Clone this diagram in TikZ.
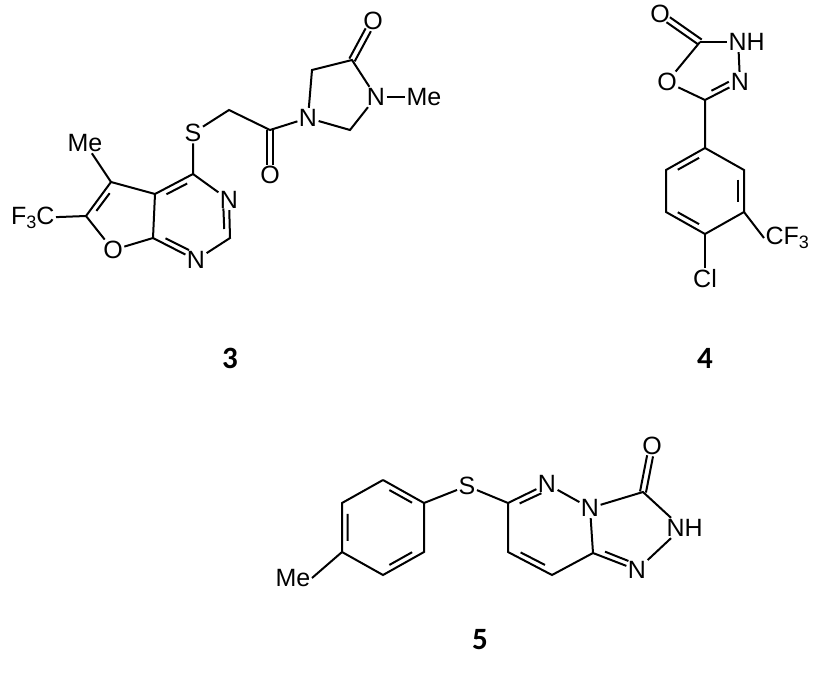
\documentclass[tikz,border=0pt]{standalone}
\usepackage{fontspec}
\setmainfont{Liberation Sans}
\newfontfamily\numfont{Carlito}
\usetikzlibrary{calc}
\newcommand\chsub[1]{\raisebox{-0.35ex}{\fontsize{18}{18}\selectfont #1}}
\newcommand\inl[3]{\draw ($ ($(#1)!0.18!(#2)$)!6pt!(#3) $) -- ($ ($(#2)!0.18!(#1)$)!6pt!(#3) $);}
\newcommand\dbl[2]{\draw[shorten >=10pt] ($(#1)!3pt!90:(#2)$) -- ($(#2)!3pt!-90:(#1)$); \draw[shorten >=10pt] ($(#1)!3pt!-90:(#2)$) -- ($(#2)!3pt!90:(#1)$);}
\begin{document}
\begin{tikzpicture}[x=1pt,y=-1pt,line width=2pt,
 atm/.style={inner sep=0.6pt,font=\fontsize{25}{28}\selectfont},
 cnum/.style={font=\numfont\bfseries\fontsize{31}{34}\selectfont}]
\useasboundingbox (0,0) rectangle (825,677);
% ---------- compound 3
\coordinate (c5) at (111,182); \coordinate (c6) at (86,216);
\node[atm] (o1) at (113,250) {O};
\coordinate (c7a) at (153,238); \coordinate (c3a) at (155,194);
\coordinate (c4) at (193,174);
\node[atm] (n3) at (229,200) {N};
\coordinate (c2) at (230,238);
\node[atm] (n1) at (196,260) {N};
\node[atm] (me1) at (85,143) {Me};
\node[atm,anchor=east] (f3c) at (56,218) {F\chsub{3}C};
\node[atm] (s1) at (193,133) {S};
\coordinate (ch2a) at (229,110); \coordinate (cco) at (270,130);
\node[atm] (oco) at (270,175) {O};
\node[atm] (na) at (308,118) {N};
\coordinate (ch2b) at (312,70); \coordinate (cco2) at (352,60);
\node[atm] (o2) at (373,21) {O};
\node[atm] (nb) at (376,97) {N};
\coordinate (ch2c) at (350,130);
\node[atm] (me2) at (424,97) {Me};
\coordinate (fc) at (124,216); \coordinate (pc) at (193,217);
\draw (me1) -- (c5) -- (c6) -- (o1) -- (c7a) -- (c3a) -- (c5);
\draw (c3a) -- (c4) -- (n3) -- (c2) -- (n1) -- (c7a);
\draw (f3c) -- (c6);
\inl{c5}{c6}{fc} \inl{c3a}{c4}{pc} \inl{n3}{c2}{pc} \inl{c7a}{n1}{pc}
\draw (c4) -- (s1) -- (ch2a) -- (cco) -- (na) -- (ch2b) -- (cco2) -- (nb) -- (ch2c) -- (na);
\draw (nb) -- (me2);
\dbl{cco}{oco} \dbl{cco2}{o2}
% ---------- compound 4
\node[atm] (oa) at (660,14) {O};
\coordinate (d2) at (700,42);
\node[atm,anchor=west] (nh4) at (727,42) {NH};
\node[atm] (n4) at (740,82) {N};
\node[atm] (o4) at (667,82) {O};
\coordinate (d5) at (705,100);
\coordinate (tc) at (712,70);
\coordinate (p1) at (705,148); \coordinate (p2) at (744,170);
\coordinate (p3) at (744,212); \coordinate (p4) at (705,234);
\coordinate (p5) at (666,212); \coordinate (p6) at (666,170);
\coordinate (bc) at (705,191);
\node[atm,anchor=west] (cf3) at (764,238) {CF\chsub{3}};
\node[atm] (cl) at (705,279) {Cl};
\dbl{d2}{oa}
\draw (d2) -- (nh4.west);
\draw ([xshift=-8pt]nh4.south) -- (n4);
\draw (n4) -- (d5) -- (o4) -- (d2);
\inl{d5}{n4}{tc}
\draw (d5) -- (p1) -- (p2) -- (p3) -- (p4) -- (p5) -- (p6) -- (p1);
\inl{p1}{p6}{bc} \inl{p2}{p3}{bc} \inl{p4}{p5}{bc}
\draw (p3) -- (cf3.west); \draw (p4) -- (cl);
% ---------- compound 5
\coordinate (t1) at (383,480); \coordinate (t2) at (424,503);
\coordinate (t3) at (424,552); \coordinate (t4) at (383,575);
\coordinate (t5) at (342,552); \coordinate (t6) at (342,503);
\coordinate (qc) at (383,527);
\node[atm,anchor=east] (me5) at (312,578) {Me};
\node[atm] (s5) at (467,486) {S};
\coordinate (e6) at (508,503);
\node[atm] (e1) at (547,484) {N};
\node[atm] (e5) at (590,508) {N};
\coordinate (e8a) at (593,553); \coordinate (e8) at (552,575);
\coordinate (e7) at (508,552);
\coordinate (rc) at (550,529);
\coordinate (e3) at (643,492);
\node[atm] (o5) at (652,446) {O};
\node[atm,anchor=west] (nh5) at (665,528) {NH};
\node[atm] (n52) at (637,570) {N};
\coordinate (zc) at (625,530);
\draw (t1) -- (t2) -- (t3) -- (t4) -- (t5) -- (t6) -- (t1);
\inl{t1}{t2}{qc} \inl{t3}{t4}{qc} \inl{t5}{t6}{qc}
\draw (t5) -- (me5.east);
\draw (t2) -- (s5) -- (e6) -- (e1) -- (e5) -- (e8a) -- (e8) -- (e7) -- (e6);
\inl{e6}{e1}{rc} \inl{e7}{e8}{rc}
\draw (e5) -- (e3) -- ([xshift=6pt]nh5.north west);
\draw ([xshift=6pt]nh5.south west) -- (n52) -- (e8a);
\inl{e8a}{n52}{zc}
\dbl{e3}{o5}
% numbers
\node[cnum] (l3) at (230,358) {3};
\node[cnum] (l4) at (705,358) {4};
\node[cnum] (l5) at (480,640) {5};
\end{tikzpicture}
\end{document}
